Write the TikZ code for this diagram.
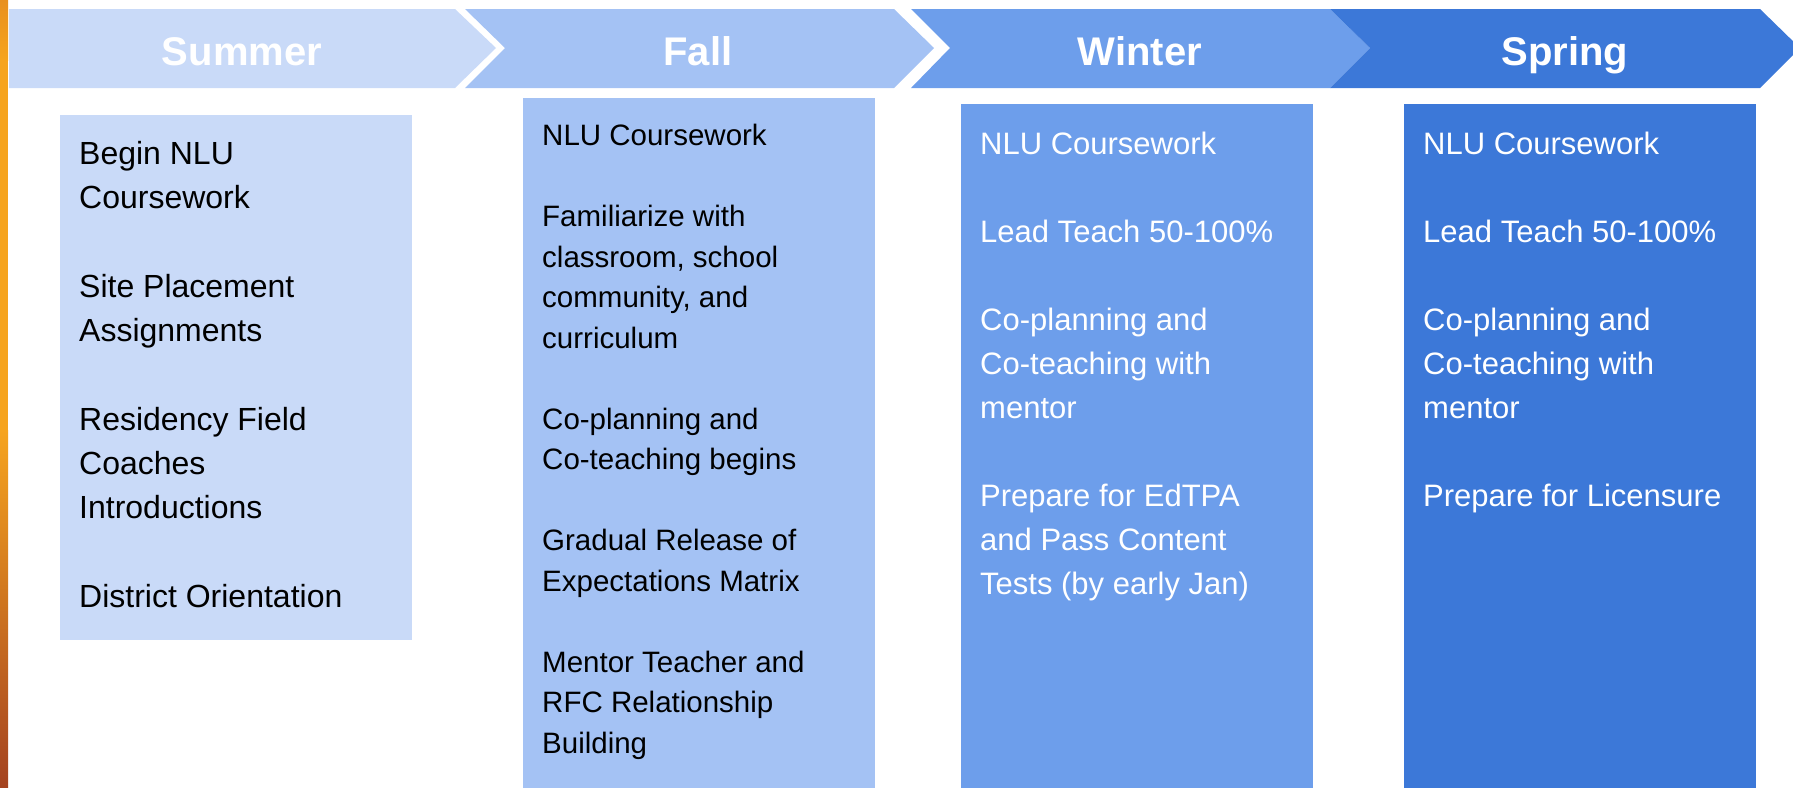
\documentclass[tikz,border=0pt]{standalone}
\usepackage{fontspec}
\setmainfont{Liberation Sans}
\usetikzlibrary{positioning}
\definecolor{summerc}{HTML}{C9DAF8}
\definecolor{fallc}{HTML}{A4C2F4}
\definecolor{winterc}{HTML}{6D9EEB}
\definecolor{springc}{HTML}{3C78D8}
\definecolor{bartop}{HTML}{E8901F}
\definecolor{barmid}{HTML}{F6A41E}
\definecolor{barlow}{HTML}{D9732A}
\definecolor{barbot}{HTML}{A4421F}
\newcommand{\topline}{\rule{0pt}{1em}}

\begin{document}
\begin{tikzpicture}[x=1pt,y=-1pt,
    season/.style={font=\fontsize{40}{48}\selectfont\bfseries,text=white,anchor=base,inner sep=0},
    box/.style={anchor=north west,inner sep=0,minimum width=352pt},
    items/.style={anchor=north west,inner sep=0,align=left}]
\useasboundingbox (0,0) rectangle (1793,787);
\shade[top color=bartop,bottom color=barmid] (0,0) rectangle (8,60);
\fill[barmid] (0,60) rectangle (8,430);
\shade[top color=barmid,middle color=barlow,bottom color=barbot] (0,430) rectangle (8,787);
\fill[summerc] (9,9) -- (455,9) -- (496,48) -- (455,88) -- (9,88) -- cycle;
\fill[fallc] (465,9) -- (894,9) -- (934,48) -- (894,88) -- (465,88) -- (505,48) -- cycle;
\fill[winterc] (911,9) -- (1330,9) -- (1370,48) -- (1330,88) -- (911,88) -- (950,48) -- cycle;
\fill[springc] (1330,9) -- (1760,9) -- (1800,48) -- (1760,88) -- (1330,88) -- (1370,48) -- cycle;
\node[season] (sumhead) at (242,65) {Summer};
\node[season] (fallhead) at (698,65) {Fall};
\node[season] (winhead) at (1140,65) {Winter};
\node[season] (sprhead) at (1565,65) {Spring};
\node[box,fill=summerc,minimum height=525pt] (sumbox) at (60,115) {};
\node[box,fill=fallc,minimum height=692pt] (fallbox) at (523,98) {};
\node[box,fill=winterc,minimum height=686pt] (winbox) at (961,104) {};
\node[box,fill=springc,minimum height=686pt] (sprbox) at (1404,104) {};
\node[items,font=\fontsize{32}{44}\selectfont] (sumtext) at ([xshift=19pt,yshift=-17pt]sumbox.north west)
  {\topline Begin NLU\\Coursework\\[45pt]Site Placement\\Assignments\\[45pt]Residency Field\\Coaches\\Introductions\\[45pt]District Orientation};
\node[items,font=\fontsize{29.5}{40.5}\selectfont] (falltext) at ([xshift=19pt,yshift=-18.1pt]fallbox.north west)
  {\topline NLU Coursework\\[40.5pt]Familiarize with\\classroom, school\\community, and\\curriculum\\[40.5pt]Co-planning and\\Co-teaching begins\\[40.5pt]Gradual Release of\\Expectations Matrix\\[40.5pt]Mentor Teacher and\\RFC Relationship\\Building};
\node[items,text=white,font=\fontsize{31}{44}\selectfont] (wintext) at ([xshift=19pt,yshift=-19.4pt]winbox.north west)
  {\topline NLU Coursework\\[44pt]Lead Teach 50-100\%\\[44pt]Co-planning and\\Co-teaching with\\mentor\\[44pt]Prepare for EdTPA\\and Pass Content\\Tests (by early Jan)};
\node[items,text=white,font=\fontsize{31}{44}\selectfont] (sprtext) at ([xshift=19pt,yshift=-19.4pt]sprbox.north west)
  {\topline NLU Coursework\\[44pt]Lead Teach 50-100\%\\[44pt]Co-planning and\\Co-teaching with\\mentor\\[44pt]Prepare for Licensure};
\end{tikzpicture}
\end{document}
